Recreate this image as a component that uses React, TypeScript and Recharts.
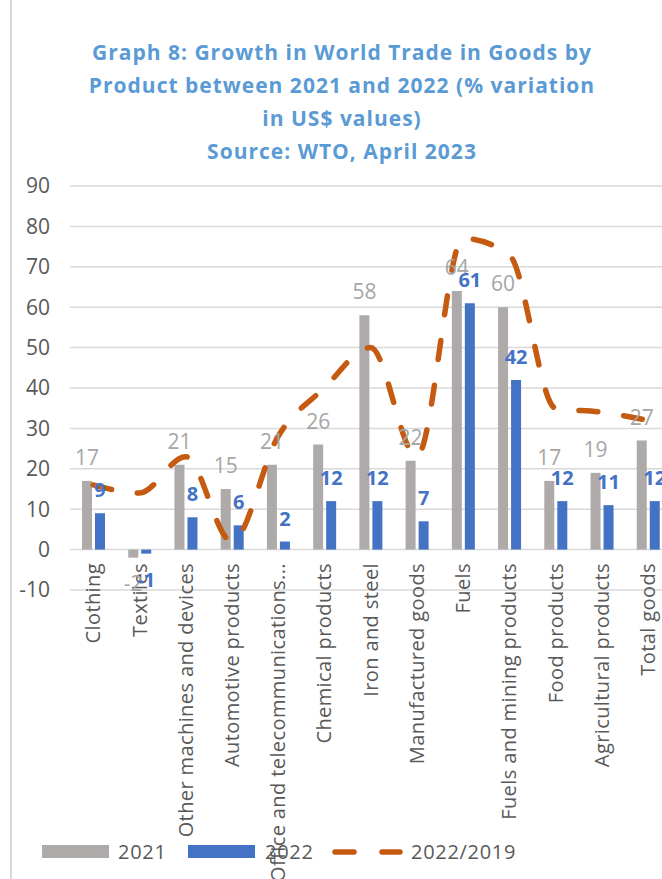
import React from "react";
import {
  ComposedChart,
  Bar,
  Line,
  XAxis,
  YAxis,
  CartesianGrid,
  LabelList,
} from "recharts";

const categories = [
  "Clothing",
  "Textiles",
  "Other machines and devices",
  "Automotive products",
  "Office and telecommunications...",
  "Chemical products",
  "Iron and steel",
  "Manufactured goods",
  "Fuels",
  "Fuels and mining products",
  "Food products",
  "Agricultural products",
  "Total goods",
];
const values2021 = [17, -2, 21, 15, 21, 26, 58, 22, 64, 60, 17, 19, 27];
const values2022 = [9, -1, 8, 6, 2, 12, 12, 7, 61, 42, 12, 11, 12];
const values2022vs2019 = [16, 14, 23, 2, 28, 40, 50, 23, 77, 73, 35, 34, 32];
const yTicks = [-10, 0, 10, 20, 30, 40, 50, 60, 70, 80, 90];
const titleLines = [
  "Graph 8: Growth in World Trade in Goods by",
  "Product between 2021 and 2022 (% variation",
  "in US$ values)",
  "Source: WTO, April 2023",
];

const data = categories.map((name, i) => ({
  name,
  y2021: values2021[i],
  y2022: values2022[i],
  y2019: values2022vs2019[i],
}));

const FONT = "'Open Sans', sans-serif";
const GRAY = "#AEAAAA";
const BLUE = "#4472C4";
const ORANGE = "#C55A11";
const TEXT = "#595959";

const CategoryTick = (props: any) => {
  const { x, y, payload } = props;
  return (
    <text
      transform={`translate(${x},${y - 27}) rotate(-90)`}
      textAnchor="end"
      dy="0.36em"
      fill={TEXT}
      fontSize={20}
      letterSpacing={0.4}
      fontFamily={FONT}
    >
      {payload.value}
    </text>
  );
};

const makeLabel = (color: string, bold: boolean) => (props: any) => {
  const { x, y, width, height, value } = props;
  const top = Math.min(y, y + height);
  const bottom = Math.max(y, y + height);
  const cx = x + width / 2;
  const neg = value < 0;
  return (
    <text
      x={cx}
      y={neg ? bottom + 17 : top - 16}
      dy={neg ? "0.8em" : 0}
      textAnchor="middle"
      fill={color}
      fontSize={bold ? 20 : 21}
      fontWeight={bold ? 700 : 400}
      fontFamily={FONT}
    >
      {value}
    </text>
  );
};

export default function App() {
  return (
    <div
      style={{
        position: "absolute",
        left: 0,
        top: 0,
        width: 662,
        height: 879,
        overflow: "hidden",
        background: "#fff",
        fontFamily: FONT,
      }}
    >
      <div
        style={{
          position: "absolute",
          left: 10,
          top: 0,
          width: 2,
          height: 879,
          background: "#d9d9d9",
        }}
      />
      <div
        style={{
          position: "absolute",
          left: 0,
          top: 36,
          width: 684,
          textAlign: "center",
          color: "#5B9BD5",
          fontWeight: 700,
          fontSize: 21,
          letterSpacing: 1,
          lineHeight: "33px",
        }}
      >
        {titleLines.map((t) => (
          <div key={t}>{t}</div>
        ))}
      </div>
      <div style={{ position: "absolute", left: 0, top: 0 }}>
        <ComposedChart
          width={680}
          height={879}
          data={data}
          margin={{ top: 186, right: 9, left: 0, bottom: 0 }}
          barSize={10}
          barGap={3}
        >
          <CartesianGrid
            vertical={false}
            stroke="#d9d9d9"
            strokeWidth={1.5}
          />
          <XAxis
            dataKey="name"
            height={289}
            interval={0}
            tickLine={false}
            axisLine={false}
            tickSize={0}
            tickMargin={0}
            tick={<CategoryTick />}
          />
          <YAxis
            width={70}
            domain={[-10, 90]}
            ticks={yTicks}
            interval={0}
            tickLine={false}
            axisLine={false}
            tickSize={0}
            tickMargin={20}
            tick={{ fill: TEXT, fontSize: 21, fontFamily: FONT }}
          />
          <Bar dataKey="y2021" name="2021" fill={GRAY} isAnimationActive={false}>
            <LabelList dataKey="y2021" content={makeLabel("#A6A6A6", false)} />
          </Bar>
          <Bar dataKey="y2022" name="2022" fill={BLUE} isAnimationActive={false}>
            <LabelList dataKey="y2022" content={makeLabel(BLUE, true)} />
          </Bar>
          <Line
            dataKey="y2019"
            name="2022/2019"
            type="monotone"
            stroke={ORANGE}
            strokeWidth={5.5}
            strokeDasharray="19 26"
            strokeLinecap="round"
            dot={false}
            activeDot={false}
            isAnimationActive={false}
          />
        </ComposedChart>
      </div>
      <svg
        width={662}
        height={30}
        style={{ position: "absolute", left: 0, top: 837 }}
      >
        <rect x={42} y={8} width={67} height={13} fill={GRAY} />
        <text x={118} y={15} dy="0.36em" fill={TEXT} fontSize={20} letterSpacing={0.7} fontFamily={FONT}>
          2021
        </text>
        <rect x={188} y={8} width={67} height={13} fill={BLUE} />
        <text x={265} y={15} dy="0.36em" fill={TEXT} fontSize={20} letterSpacing={0.7} fontFamily={FONT}>
          2022
        </text>
        <line x1={335} y1={15} x2={354} y2={15} stroke={ORANGE} strokeWidth={5.5} strokeLinecap="round" />
        <line x1={382} y1={15} x2={400} y2={15} stroke={ORANGE} strokeWidth={5.5} strokeLinecap="round" />
        <text x={411} y={15} dy="0.36em" fill={TEXT} fontSize={20} letterSpacing={0.7} fontFamily={FONT}>
          2022/2019
        </text>
      </svg>
    </div>
  );
}
